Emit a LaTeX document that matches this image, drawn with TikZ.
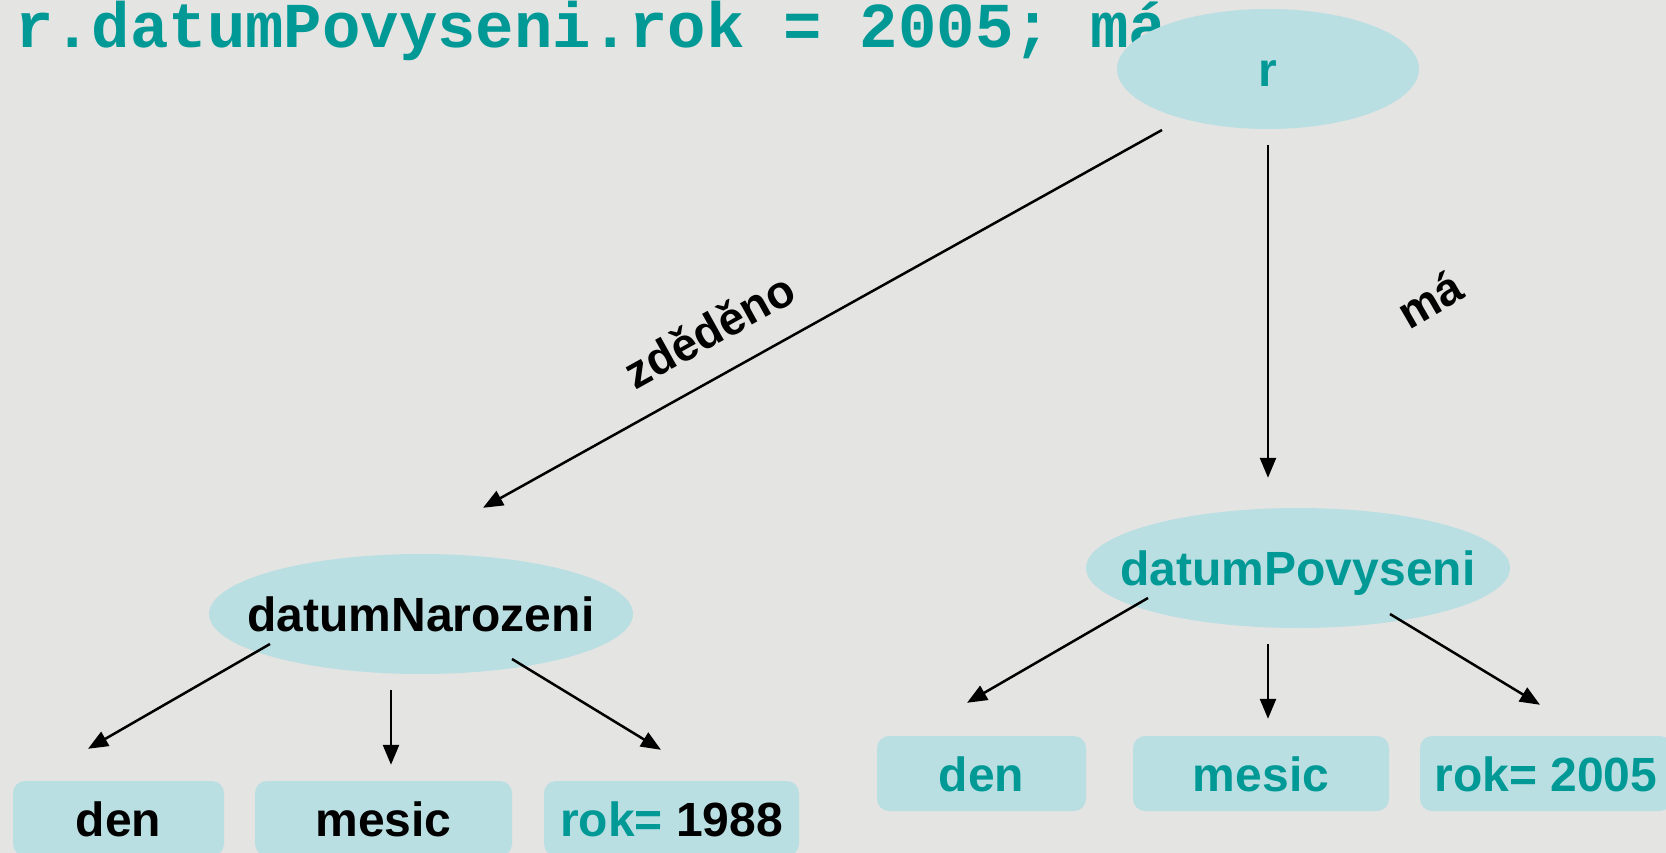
\documentclass[tikz,border=0pt]{standalone}
\usepackage{fontspec}
\setmainfont{Liberation Sans}
\setmonofont{Liberation Mono}
\usepackage{xcolor}
\usetikzlibrary{
    arrows.meta,
    shapes.geometric,
    calc,
    positioning
}
\definecolor{tyrkys}{RGB}{0,153,150}
\definecolor{svetla}{RGB}{186,223,226}
\definecolor{pozadi}{RGB}{228,228,226}

\begin{document}
\begin{tikzpicture}[x=1pt, y=-1pt,
    oval/.style={ellipse, fill=svetla, inner sep=0pt, minimum height=120pt,
        font=\fontsize{48}{56}\selectfont\bfseries, text height=35pt, text depth=0pt},
    box/.style={rectangle, rounded corners=12pt, fill=svetla, inner sep=0pt, minimum height=75pt,
        font=\fontsize{48}{56}\selectfont\bfseries, text height=35pt, text depth=0pt},
    lbl/.style={font=\fontsize{46}{54}\selectfont\bfseries, inner sep=0pt},
    sip/.style={-{Triangle[length=20pt, width=16pt]}, line width=2.5pt}]
    \fill[pozadi] (0,0) rectangle (1666,853);
    \useasboundingbox (0,0) rectangle (1666,853);

    \node[anchor=base west, inner sep=0pt, text=tyrkys,
        font=\fontsize{64}{70}\selectfont\ttfamily\bfseries] (kod) at (15,48) {r.datumPovyseni.rok = 2005; má};

    \node[oval, minimum width=302pt, text=tyrkys] (r) at (1268,69) {\makebox[0pt]{r}};
    \node[oval, minimum width=424pt] (dn) at (421,614) {\makebox[0pt]{datumNarozeni}};
    \node[oval, minimum width=424pt, text=tyrkys] (dp) at (1298,568) {\makebox[0pt]{datumPovyseni}};

    \node[box, minimum width=211pt] (dnden) at (118.5,818.5) {den};
    \node[box, minimum width=257pt] (dnmes) at (383.5,818.5) {mesic};
    \node[box, minimum width=255pt] (dnrok) at (671.5,818.5) {\textcolor{tyrkys}{rok=} 1988};

    \node[box, minimum width=209pt, text=tyrkys] (dpden) at (981.5,773.5) {den};
    \node[box, minimum width=256pt, text=tyrkys] (dpmes) at (1261,773.5) {mesic};
    \node[box, minimum width=252pt, text=tyrkys] (dprok) at (1546,773.5) {rok= 2005};

    \node[lbl, rotate=29] (zd) at (709,330) {zděděno};
    \node[lbl, rotate=30] (ma) at (1430,299) {má};

    \draw[sip] ($(r)+(-106,61)$) -- ($(dn.north)+(62,-46)$);
    \draw[sip] ($(r)+(0,76)$) -- ($(dp.north)+(-30,-30)$);

    \draw[sip] ($(dn)+(-151,30)$) -- ($(dnden.north)+(-30.5,-32)$);
    \draw[sip] ($(dn)+(-30,76)$) -- ($(dnmes.north)+(7.5,-16)$);
    \draw[sip] ($(dn)+(91,45)$) -- ($(dnrok.north)+(-10.5,-31)$);

    \draw[sip] ($(dp)+(-150,30)$) -- ($(dpden.north)+(-14.5,-33)$);
    \draw[sip] ($(dp)+(-30,76)$) -- ($(dpmes.north)+(7,-17)$);
    \draw[sip] ($(dp)+(92,46)$) -- ($(dprok.north)+(-6,-31)$);
\end{tikzpicture}
\end{document}
